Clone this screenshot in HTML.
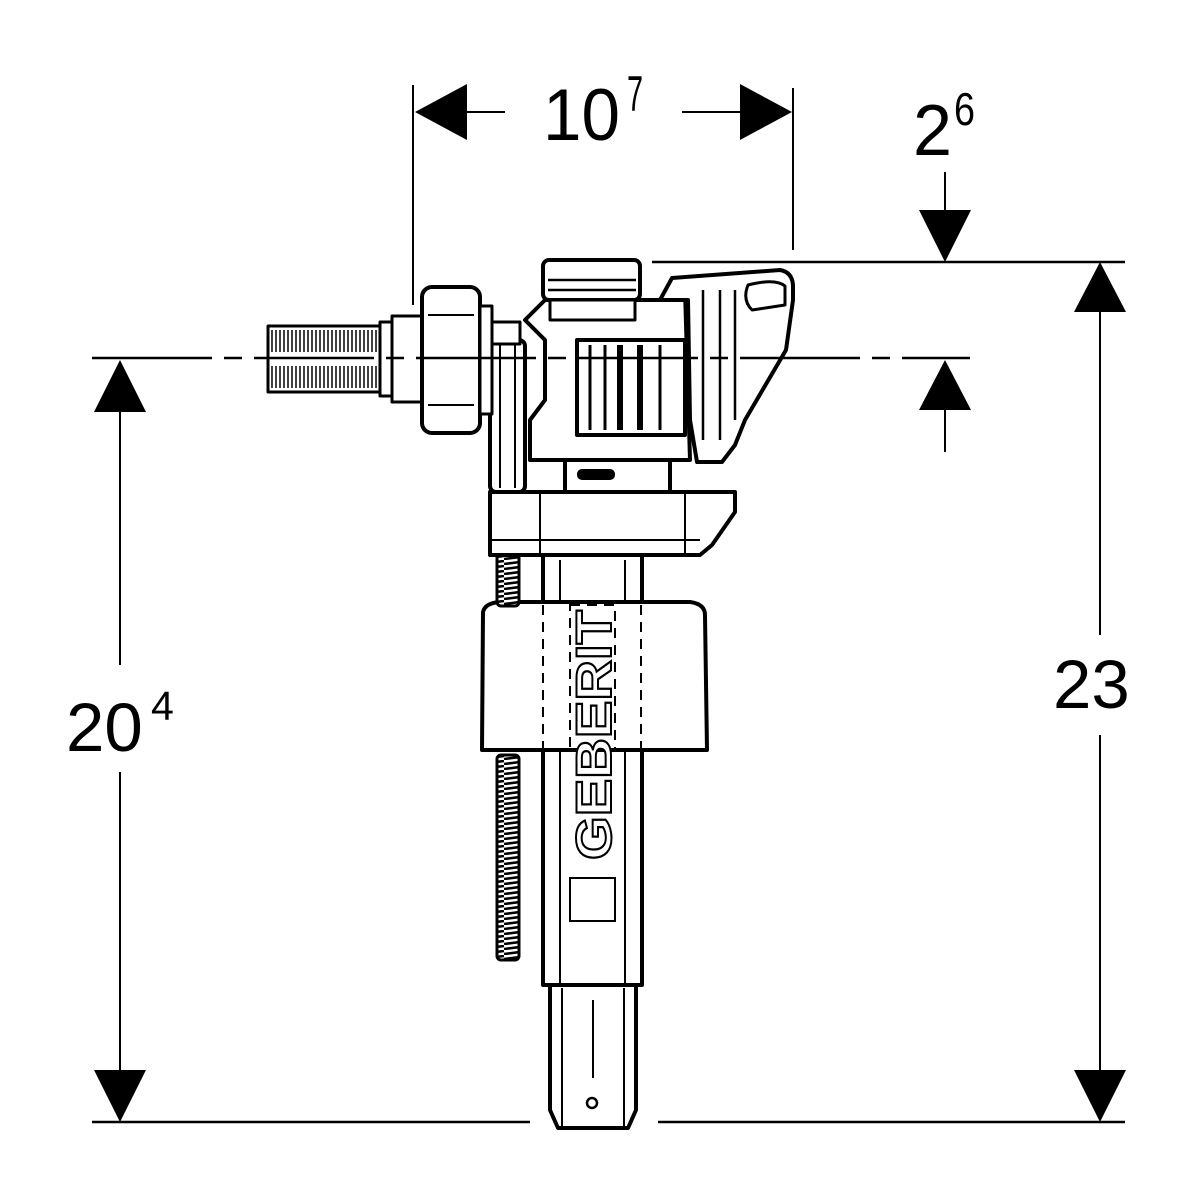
<!DOCTYPE html>
<html><head><meta charset="utf-8"><style>
html,body{margin:0;padding:0;background:#fff;}
svg{display:block;}
text{font-family:"Liberation Sans",sans-serif;}
</style></head><body>
<svg width="1200" height="1200" viewBox="0 0 1200 1200" xmlns="http://www.w3.org/2000/svg">
<defs>
<pattern id="coil" width="24" height="5" patternUnits="userSpaceOnUse">
<rect width="24" height="5" fill="#fff"/>
<line x1="0" y1="4" x2="24" y2="1" stroke="#000" stroke-width="2.6"/>
</pattern>
</defs>
<g stroke="#000" fill="none" stroke-width="2">
<line x1="413" y1="85" x2="413" y2="305"/>
<line x1="793" y1="88" x2="793" y2="250"/>
<line x1="460" y1="112" x2="505" y2="112"/>
<line x1="682" y1="112" x2="745" y2="112"/>
<line x1="945" y1="172" x2="945" y2="215"/>
<line x1="652" y1="262" x2="1125" y2="262" stroke-width="2.5"/>
<line x1="945" y1="405" x2="945" y2="452"/>
<line x1="120" y1="405" x2="120" y2="665"/>
<line x1="120" y1="772" x2="120" y2="1075"/>
<line x1="92" y1="1122" x2="530" y2="1122" stroke-width="2.5"/>
<line x1="658" y1="1122" x2="1125" y2="1122" stroke-width="2.5"/>
<line x1="1100" y1="305" x2="1100" y2="635"/>
<line x1="1100" y1="735" x2="1100" y2="1075"/>
</g>
<g fill="#000">
<polygon points="415,112 467,84 467,140"/>
<polygon points="792,112 740,84 740,140"/>
<polygon points="945,262 919,210 971,210"/>
<polygon points="945,360 919,410 971,410"/>
<polygon points="120,360 94,412 146,412"/>
<polygon points="120,1122 94,1070 146,1070"/>
<polygon points="1100,262 1074,312 1126,312"/>
<polygon points="1100,1122 1074,1070 1126,1070"/>
</g>
<text x="543" y="140" font-size="73" textLength="77" lengthAdjust="spacingAndGlyphs">10</text>
<text x="627" y="111" font-size="50" textLength="16" lengthAdjust="spacingAndGlyphs">7</text>
<text x="913" y="155" font-size="72" textLength="39" lengthAdjust="spacingAndGlyphs">2</text>
<text x="954" y="125" font-size="46" textLength="21" lengthAdjust="spacingAndGlyphs">6</text>
<text x="66" y="751" font-size="69">20</text>
<text x="151" y="720" font-size="41">4</text>
<text x="1053" y="708" font-size="69">23</text>

<g stroke="#000" fill="#fff" stroke-width="4" stroke-linejoin="round">
<path d="M550 985 L550 1110 L558 1128 L628 1128 L636 1110 L636 985 Z"/>
<line x1="562" y1="988" x2="562" y2="1126" stroke-width="2"/>
<line x1="624" y1="988" x2="624" y2="1126" stroke-width="2"/>
<line x1="593" y1="1000" x2="593" y2="1078" stroke-width="2"/>
<circle cx="592" cy="1103" r="5" stroke-width="2.5"/>
<rect x="543" y="555" width="99" height="430"/>
<line x1="560" y1="560" x2="560" y2="983" stroke-width="2"/>
<line x1="625" y1="560" x2="625" y2="983" stroke-width="2"/>
<path d="M483 612 Q485 603 500 602 L690 602 Q705 604 705 615 L707 750 L482 750 Z"/>
<rect x="497" y="548" width="22" height="58" stroke-width="3" fill="url(#coil)" rx="4"/>
<rect x="497" y="755" width="22" height="205" stroke-width="3" fill="url(#coil)" rx="4"/>
<path d="M490 492 L735 492 L735 512 L712 545 L700 555 L490 555 Z"/>
<line x1="540" y1="492" x2="540" y2="555" stroke-width="2"/>
<line x1="685" y1="492" x2="685" y2="555" stroke-width="2"/>
<line x1="490" y1="540" x2="700" y2="540" stroke-width="2"/>
<rect x="565" y="445" width="105" height="47"/>
<rect x="578" y="470" width="36" height="9" rx="4" fill="#000" stroke-width="2"/>
<rect x="590" y="430" width="20" height="22" stroke-width="3"/>
<rect x="620" y="430" width="20" height="22" stroke-width="3"/>
<path d="M525 320 L545 300 L660 300 L685 290 L690 460 L530 460 L530 420 L545 400 L545 340 Z"/>
<path d="M660 300 L672 278 L780 270 Q792 272 793 285 L793 300 L786 350 L745 420 L735 445 L722 462 L697 462 L690 420 L688 300 Z"/>
<path d="M748 285 Q775 278 785 286 L785 305 L752 310 Q742 300 748 285 Z" stroke-width="3"/>
<line x1="703" y1="290" x2="703" y2="440" stroke-width="2.5"/>
<line x1="720" y1="290" x2="720" y2="440" stroke-width="2.5"/>
<line x1="735" y1="290" x2="735" y2="420" stroke-width="2.5"/>
<rect x="543" y="260" width="97" height="40" rx="6"/>
<line x1="548" y1="280" x2="636" y2="280" stroke-width="2.5"/>
<line x1="548" y1="290" x2="636" y2="290" stroke-width="2.5"/>
<rect x="550" y="300" width="85" height="20" stroke-width="3"/>
<rect x="577" y="340" width="108" height="95"/>
<line x1="590" y1="345" x2="590" y2="430" stroke-width="3"/>
<line x1="605" y1="345" x2="605" y2="430" stroke-width="3"/>
<line x1="620" y1="345" x2="620" y2="430" stroke-width="6"/>
<line x1="640" y1="345" x2="640" y2="430" stroke-width="6"/>
<line x1="660" y1="345" x2="660" y2="430" stroke-width="3"/>
<rect x="490" y="340" width="35" height="152" rx="6"/>
<line x1="500" y1="345" x2="500" y2="488" stroke-width="2"/>
<line x1="515" y1="345" x2="515" y2="488" stroke-width="2"/>
<rect x="490" y="322" width="30" height="22" stroke-width="3"/>
<rect x="268" y="326" width="112" height="66" stroke-width="3"/>
<rect x="380" y="322" width="12" height="74" stroke-width="3"/>
<rect x="392" y="316" width="30" height="86" stroke-width="3"/>
<rect x="422" y="287" width="58" height="146" rx="10"/>
<line x1="428" y1="315" x2="474" y2="315" stroke-width="2"/>
<line x1="428" y1="405" x2="474" y2="405" stroke-width="2"/>
<rect x="480" y="306" width="12" height="108" stroke-width="3"/>
</g>
<g stroke="#000" stroke-width="1.5">
<path d="M272 330 V352 M276 330 V352 M280 330 V352 M284 330 V352 M288 330 V352 M292 330 V352 M296 330 V352 M300 330 V352 M304 330 V352 M308 330 V352 M312 330 V352 M316 330 V352 M320 330 V352 M324 330 V352 M328 330 V352 M332 330 V352 M336 330 V352 M340 330 V352 M344 330 V352 M348 330 V352 M352 330 V352 M356 330 V352 M360 330 V352 M364 330 V352 M368 330 V352 M372 330 V352 M376 330 V352"/>
<path d="M272 366 V388 M276 366 V388 M280 366 V388 M284 366 V388 M288 366 V388 M292 366 V388 M296 366 V388 M300 366 V388 M304 366 V388 M308 366 V388 M312 366 V388 M316 366 V388 M320 366 V388 M324 366 V388 M328 366 V388 M332 366 V388 M336 366 V388 M340 366 V388 M344 366 V388 M348 366 V388 M352 366 V388 M356 366 V388 M360 366 V388 M364 366 V388 M368 366 V388 M372 366 V388 M376 366 V388"/>
</g>
<!-- center line over part -->
<line x1="92" y1="358" x2="970" y2="358" stroke="#fff" stroke-width="8" stroke-dasharray="0,120,12,18,12,0" opacity="0"/>
<line x1="92" y1="358" x2="970" y2="358" stroke="#000" stroke-width="2.5" stroke-dasharray="120,12,18,12"/>
<g stroke="#000" stroke-width="2" stroke-dasharray="10,7" fill="none">
<line x1="543" y1="605" x2="543" y2="748"/>
<line x1="641" y1="605" x2="641" y2="748"/>
<rect x="570" y="605" width="45" height="145"/>
</g>
<text transform="translate(611,860) rotate(-90)" font-size="50" font-weight="bold" style="fill:#fff;stroke:#000;stroke-width:2" textLength="250" lengthAdjust="spacingAndGlyphs">GEBERIT</text>
<rect x="570" y="878" width="45" height="43" fill="#fff" stroke="#000" stroke-width="2"/>
</svg>
</body></html>
